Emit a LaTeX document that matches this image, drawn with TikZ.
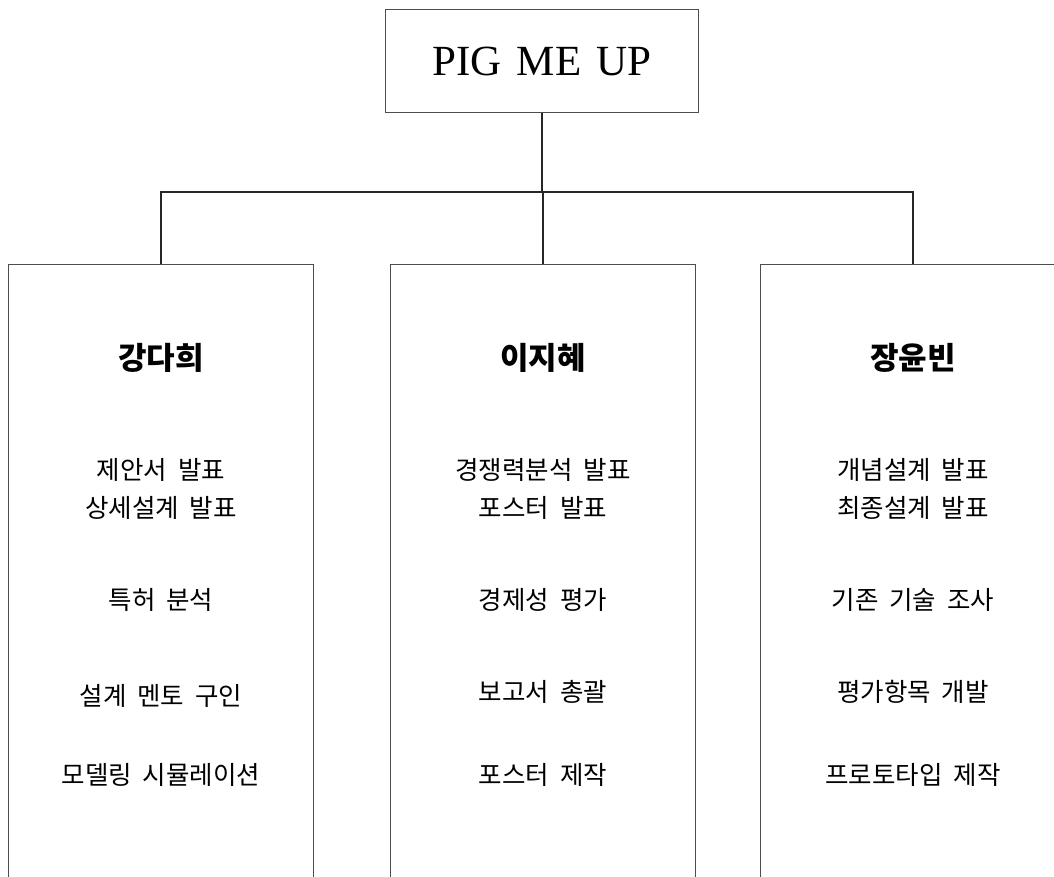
\documentclass[tikz,border=0pt]{standalone}
\usepackage{fontspec}
\setmainfont{Liberation Serif}
\newfontfamily\kr{Noto Sans CJK KR}[WordSpace=1.9]
\begin{document}
\begin{tikzpicture}[x=1pt,y=-1pt,
  frame/.style={draw=black!70, line width=1.4pt},
  link/.style={draw=black!85, line width=1.2pt},
  colbox/.style={frame, minimum width=305pt, minimum height=640pt, anchor=north, inner sep=0pt},
  head/.style={font=\kr\fontsize{31}{33}\selectfont\bfseries, inner sep=0pt},
  item/.style={font=\kr\fontsize{25.5}{38}\selectfont, align=center, inner sep=0pt}]
\useasboundingbox (0,0) rectangle (1054,876);
\clip (0,0) rectangle (1054,876);
\node[frame, minimum width=313pt, minimum height=103pt, inner sep=0pt, font=\fontsize{43}{46}\selectfont] (top) at (542,61) {PIG\hspace{0.35em}ME\hspace{0.35em}UP};
\coordinate (j) at (542,192);
\node[colbox] (b1) at (161,264) {};
\node[colbox] (b2) at (543,264) {};
\node[colbox] (b3) at (913,264) {};
\draw[link] (top.south) -- (top.south |- j);
\draw[link] (b1.north) |- (b3.north |- j) -- (b3.north);
\draw[link] (b2.north) -- (b2.north |- j);
% column 1
\node[head] (h1) at (161,358) {강다희};
\node[item] (a1) at (161,489) {제안서 발표\\상세설계 발표};
\node[item] (a2) at (161,600) {특허 분석};
\node[item] (a3) at (161,696) {설계 멘토 구인};
\node[item] (a4) at (161,775) {모델링 시뮬레이션};
% column 2
\node[head] (h2) at (543,358) {이지혜};
\node[item] (c1) at (543,489) {경쟁력분석 발표\\포스터 발표};
\node[item] (c2) at (543,600) {경제성 평가};
\node[item] (c3) at (543,692) {보고서 총괄};
\node[item] (c4) at (543,775) {포스터 제작};
% column 3
\node[head] (h3) at (913,358) {장윤빈};
\node[item] (d1) at (913,489) {개념설계 발표\\최종설계 발표};
\node[item] (d2) at (913,600) {기존 기술 조사};
\node[item] (d3) at (913,692) {평가항목 개발};
\node[item] (d4) at (913,775) {프로토타입 제작};
\end{tikzpicture}
\end{document}
